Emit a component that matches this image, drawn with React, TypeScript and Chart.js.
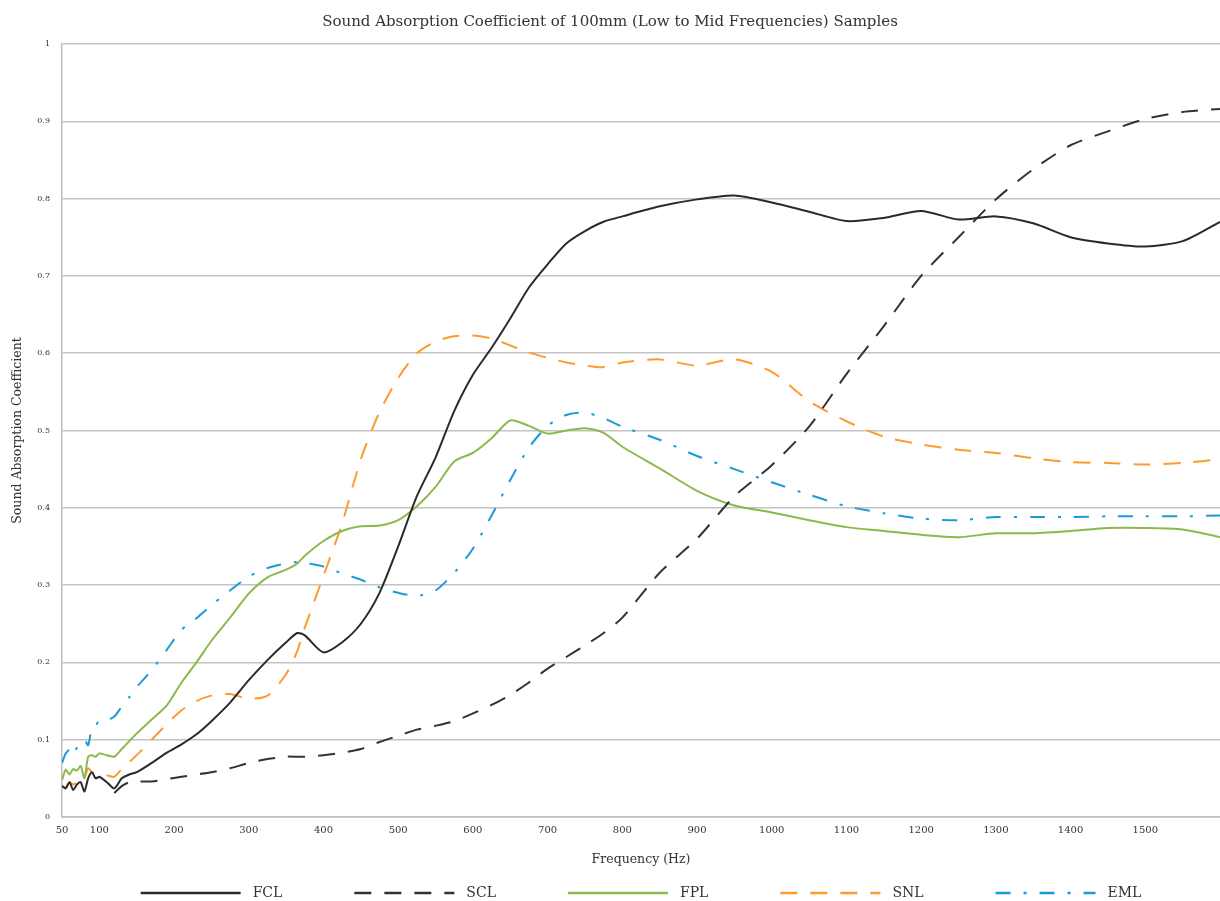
import React, { useEffect, useRef } from "react";
import { Chart, registerables } from "chart.js";

Chart.register(...registerables);

const frequencies = [
  50, 55, 60, 65, 70, 75, 80, 85, 90, 95,
  100, 110, 120, 130, 140, 150,
  170, 190, 210, 230, 250,
  275, 300, 325, 350, 365, 375, 400,
  425, 450, 475, 500, 525, 550, 575, 600,
  625, 650, 675, 700, 725, 750, 775, 800,
  850, 900, 950, 1000, 1050, 1100, 1150, 1200,
  1250, 1300, 1350, 1400, 1450, 1500, 1550, 1600,
];

const fcl = [
  0.040, 0.037, 0.045, 0.035, 0.042, 0.045, 0.033, 0.050, 0.058, 0.050,
  0.052, 0.045, 0.037, 0.050, 0.055, 0.058,
  0.070, 0.083, 0.094, 0.107, 0.124,
  0.148, 0.177, 0.203, 0.226, 0.238, 0.235, 0.213,
  0.226, 0.250, 0.290, 0.350, 0.415, 0.465, 0.525, 0.572,
  0.607, 0.645, 0.685, 0.715, 0.742, 0.758, 0.770, 0.777,
  0.790, 0.799, 0.804, 0.795, 0.783, 0.771, 0.775, 0.784,
  0.773, 0.777, 0.768, 0.750, 0.742, 0.738, 0.745, 0.770,
];

const scl = [
  null, null, null, null, null, null, null, null, null, null,
  null, null, 0.031, 0.040, 0.045, 0.046,
  0.046, 0.049, 0.052, 0.055, 0.058,
  0.063, 0.070, 0.075, 0.078, 0.078, 0.078, 0.080,
  0.083, 0.088, 0.097, 0.105, 0.113, 0.118, 0.124, 0.134,
  0.145, 0.158, 0.174, 0.192, 0.207, 0.222, 0.238, 0.258,
  0.316, 0.360, 0.415, 0.455, 0.505, 0.573, 0.635, 0.700,
  0.750, 0.799, 0.838, 0.869, 0.887, 0.903, 0.912, 0.916,
];

const fpl = [
  0.048, 0.061, 0.055, 0.062, 0.060, 0.066, 0.050, 0.078, 0.080, 0.078,
  0.082, 0.080, 0.078, 0.088, 0.098, 0.108,
  0.126, 0.144, 0.174, 0.200, 0.228,
  0.258, 0.289, 0.310, 0.320, 0.328, 0.338, 0.357,
  0.370, 0.376, 0.377, 0.384, 0.402, 0.427, 0.460, 0.471,
  0.490, 0.513, 0.506, 0.496, 0.500, 0.503, 0.497, 0.479,
  0.451, 0.422, 0.403, 0.394, 0.384, 0.375, 0.370, 0.365,
  0.362, 0.367, 0.367, 0.370, 0.374, 0.374, 0.372, 0.362,
];

const snl = [
  0.040, 0.039, 0.045, 0.042, 0.045, 0.044, 0.050, 0.063, 0.058, 0.055,
  0.055, 0.054, 0.052, 0.062, 0.071, 0.080,
  0.100, 0.120, 0.138, 0.150, 0.157,
  0.159, 0.153, 0.157, 0.185, 0.215, 0.245, 0.312,
  0.380, 0.463, 0.524, 0.568, 0.600, 0.615, 0.622, 0.623,
  0.619, 0.610, 0.601, 0.594, 0.588, 0.584, 0.582, 0.588,
  0.592, 0.584, 0.592, 0.576, 0.538, 0.512, 0.492, 0.482,
  0.475, 0.471, 0.464, 0.459, 0.458, 0.456, 0.458, 0.463,
];

const eml = [
  0.070, 0.082, 0.087, 0.080, 0.090, 0.095, 0.100, 0.093, 0.116, 0.118,
  0.125, 0.125, 0.130, 0.143, 0.155, 0.168,
  0.190, 0.216, 0.242, 0.257, 0.274,
  0.293, 0.311, 0.322, 0.328, 0.330, 0.329, 0.324,
  0.315, 0.307, 0.297, 0.290, 0.286, 0.293, 0.316, 0.347,
  0.390, 0.436, 0.478, 0.506, 0.520, 0.523, 0.516, 0.505,
  0.488, 0.467, 0.450, 0.433, 0.417, 0.402, 0.393, 0.386,
  0.384, 0.388, 0.388, 0.388, 0.389, 0.389, 0.389, 0.390,
];

const xTickValues = [50, 100, 200, 300, 400, 500, 600, 700, 800, 900, 1000, 1100, 1200, 1300, 1400, 1500];

const seriesLabels = ["FCL", "SCL", "FPL", "SNL", "EML"];
const seriesValues = [fcl, scl, fpl, snl, eml];
const seriesColors = ["#2a2a2a", "#333333", "#8cb94c", "#ff9a2e", "#1c9ad6"];
const seriesDashes: number[][] = [[], [17, 13], [], [17, 13], [15, 13, 3, 13]];

const FONT = '"DejaVu Serif", serif';

const bottomLegend = {
  id: "bottomLegend",
  afterDraw(chart: any) {
    const ctx = chart.ctx as CanvasRenderingContext2D;
    ctx.save();
    ctx.font = `14px ${FONT}`;
    const lineW = 100;
    const gapText = 12;
    const gapItem = 72;
    const items = chart.data.datasets.map((ds: any) => ({ ds, tw: ctx.measureText(ds.label).width }));
    const total =
      items.reduce((s: number, it: any) => s + lineW + gapText + it.tw, 0) + gapItem * (items.length - 1);
    const { left, right } = chart.chartArea;
    let x = (left + right) / 2 - total / 2;
    const y = chart.height - 8;
    for (const it of items) {
      ctx.beginPath();
      ctx.setLineDash(it.ds.borderDash || []);
      ctx.strokeStyle = it.ds.borderColor;
      ctx.lineWidth = 2.5;
      ctx.moveTo(x, y);
      ctx.lineTo(x + lineW, y);
      ctx.stroke();
      ctx.setLineDash([]);
      ctx.fillStyle = "#333333";
      ctx.textBaseline = "middle";
      ctx.textAlign = "left";
      ctx.fillText(it.ds.label, x + lineW + gapText, y);
      x += lineW + gapText + it.tw + gapItem;
    }
    ctx.restore();
  },
};

export default function App() {
  const canvasRef = useRef<HTMLCanvasElement | null>(null);

  useEffect(() => {
    if (!canvasRef.current) return;
    const chart = new Chart(canvasRef.current, {
      type: "line",
      data: {
        labels: frequencies,
        datasets: seriesLabels.map((label, i) => ({
          label,
          data: seriesValues[i].map((v, j) => ({ x: frequencies[j], y: v })),
          borderColor: seriesColors[i],
          backgroundColor: seriesColors[i],
          borderWidth: 2,
          borderDash: seriesDashes[i],
          pointRadius: 0,
          pointHoverRadius: 0,
          tension: 0.25,
          spanGaps: false,
          fill: false,
        })),
      },
      options: {
        animation: false,
        responsive: false,
        maintainAspectRatio: false,
        layout: { padding: { left: 0, right: 0, top: 0, bottom: 24 } },
        plugins: {
          legend: { display: false },
          tooltip: { enabled: false },
          title: {
            display: true,
            text: "Sound Absorption Coefficient of 100mm (Low to Mid Frequencies) Samples",
            color: "#333333",
            font: { family: FONT, size: 15, weight: "normal" },
            padding: { top: 13, bottom: 13 },
          },
        },
        scales: {
          x: {
            type: "linear",
            min: 50,
            max: 1600,
            afterBuildTicks: (scale: any) => {
              scale.ticks = xTickValues.map((v) => ({ value: v }));
            },
            afterFit: (scale: any) => {
              scale.height = 60;
            },
            grid: { display: false, drawTicks: false },
            border: { display: true, color: "#bfbfbf", width: 1.5 },
            ticks: {
              color: "#333333",
              font: { family: FONT, size: 10 },
              padding: 7,
              maxRotation: 0,
              autoSkip: false,
              callback: (v: any) => String(v),
            },
            title: {
              display: true,
              text: "Frequency (Hz)",
              color: "#333333",
              font: { family: FONT, size: 12.5 },
              padding: { top: 0, bottom: 10 },
            },
          },
          y: {
            min: 0,
            max: 1,
            afterFit: (scale: any) => {
              scale.width = 62;
            },
            grid: { color: "#c4c4c4", lineWidth: 1.5, drawTicks: false },
            border: { display: true, color: "#bfbfbf", width: 1.5 },
            ticks: {
              stepSize: 0.1,
              color: "#333333",
              font: { family: FONT, size: 8 },
              padding: 12,
              callback: (v: any) => {
                const n = Math.round(Number(v) * 10) / 10;
                return n === 0 ? "0" : n === 1 ? "1" : n.toFixed(1);
              },
            },
            title: {
              display: true,
              text: "Sound Absorption Coefficient",
              color: "#333333",
              font: { family: FONT, size: 12.5 },
              padding: { top: 10, bottom: 0 },
            },
          },
        },
      },
      plugins: [bottomLegend],
    } as any);
    return () => chart.destroy();
  }, []);

  return (
    <div style={{ position: "fixed", left: 0, top: 0, width: 1220, height: 901, background: "#ffffff" }}>
      <canvas ref={canvasRef} width={1220} height={901} />
    </div>
  );
}
